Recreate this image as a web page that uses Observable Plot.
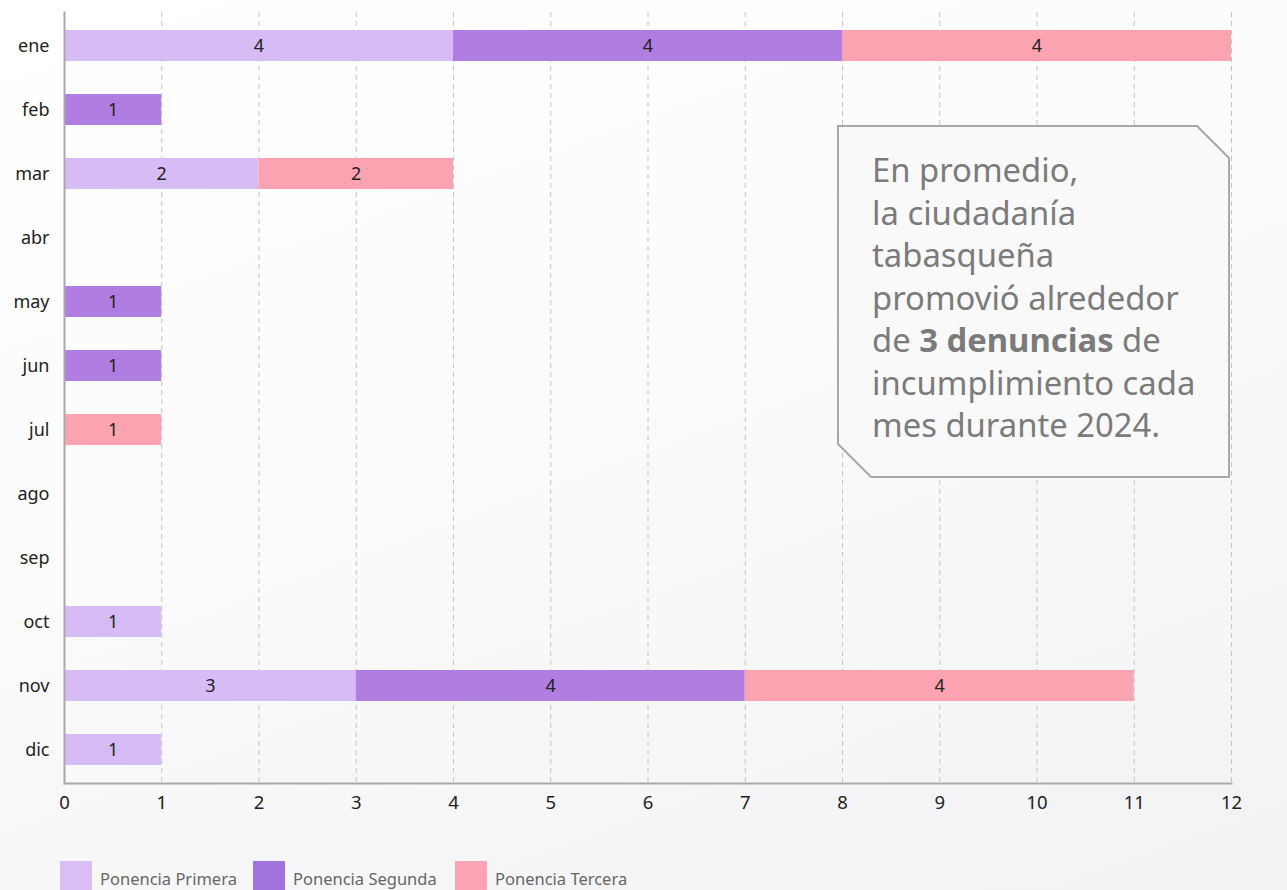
<!DOCTYPE html>
<html>
<head>
<meta charset="utf-8">
<script src="https://cdn.jsdelivr.net/npm/d3@7"></script>
<script src="https://cdn.jsdelivr.net/npm/@observablehq/plot@0.6"></script>
<style>
  html, body { margin: 0; padding: 0; }
  body { width: 1287px; height: 890px; overflow: hidden; font-family: "Noto Sans", sans-serif;
    background: linear-gradient(160deg, #ffffff 0%, #fbfbfc 45%, #f2f2f4 100%); }
  #wrap { position: relative; width: 1287px; height: 890px; }
  #chart { position: absolute; left: 0; top: 0; }
  #note { position: absolute; left: 0; top: 0; width: 1287px; height: 890px; pointer-events: none; }
  #legend { position: absolute; left: 60px; top: 861px; display: flex; font-size: 16.5px; color: #666; }
  .item { display: flex; align-items: flex-start; margin-right: 0; }
  .sw { width: 32px; height: 30px; margin-right: 8px; }
  .lab { line-height: 36px; }
</style>
</head>
<body>
<div id="wrap">
  <div id="chart"></div>
  <svg id="note" width="1287" height="890"></svg>
  <div id="legend"></div>
</div>
<script>
const months = ["ene","feb","mar","abr","may","jun","jul","ago","sep","oct","nov","dic"];
const ponencias = ["Ponencia Primera","Ponencia Segunda","Ponencia Tercera"];
const primera = [4,0,2,0,0,0,0,0,0,1,3,1];
const segunda = [4,1,0,0,1,1,0,0,0,0,4,0];
const tercera = [4,0,2,0,0,0,1,0,0,0,4,0];
const colors = ["#d7bbf4","#b07de0","#fca3b2"];
const swatchColors = ["#d9bef4","#a173de","#fca4b3"];
const xTicks = [0,1,2,3,4,5,6,7,8,9,10,11,12];
const noteLines = ["En promedio,","la ciudadanía","tabasqueña","promovió alrededor","de |3 denuncias| de","incumplimiento cada","mes durante 2024."];

const series = [primera, segunda, tercera];
const data = [];
months.forEach((m, i) => {
  series.forEach((s, j) => {
    if (s[i] > 0) data.push({mes: m, ponencia: ponencias[j], valor: s[i]});
  });
});

const chart = Plot.plot({
  width: 1287,
  height: 830,
  marginLeft: 64,
  marginRight: 56,
  marginTop: 12,
  marginBottom: 47,
  style: {background: "transparent", fontFamily: "'Noto Sans', sans-serif", color: "#222"},
  x: {domain: [0, 12], ticks: xTicks, label: null},
  y: {domain: months, paddingInner: 0.52, paddingOuter: 0.275, label: null},
  color: {domain: ponencias, range: colors},
  marks: [
    Plot.gridX(xTicks.slice(1), {stroke: "#c4c4c8", strokeOpacity: 1, strokeWidth: 1, strokeDasharray: "5,4"}),
    Plot.barX(data, {x: "valor", y: "mes", fill: "ponencia", order: ponencias, inset: 0}),
    Plot.textX(data, Plot.stackX({x: "valor", y: "mes", z: "ponencia", order: ponencias, text: "valor", fill: "#222", fontSize: 18})),
    Plot.frame({anchor: "left", stroke: "#a9a9ad", strokeWidth: 2}),
    Plot.frame({anchor: "bottom", stroke: "#a9a9ad", strokeWidth: 2}),
    Plot.axisX({ticks: xTicks, tickSize: 0, tickPadding: 12, fontSize: 18.5, label: null, fill: "#222"}),
    Plot.axisY({tickSize: 0, tickPadding: 15, fontSize: 18, label: null, fill: "#222"})
  ]
});
document.getElementById("chart").appendChild(chart);

// annotation box
const note = d3.select("#note");
note.append("polygon")
  .attr("points", "838,126 1197,126 1229,158 1229,477 871,477 838,444")
  .attr("fill", "#f9f9fa").attr("fill-opacity", 0.97)
  .attr("stroke", "#a8a8ab").attr("stroke-width", 2);
const t = note.append("text").attr("x", 872).attr("fill", "#7b7b7b")
  .style("font-family", "'Noto Sans', sans-serif").style("font-size", "32.8px");
noteLines.forEach((line, i) => {
  const parts = line.split("|");
  const ts = t.append("tspan").attr("x", 872).attr("y", 182 + i * 42.5);
  ts.text(parts[0]);
  if (parts.length > 1) {
    t.append("tspan").attr("font-weight", "bold").text(parts[1]);
    t.append("tspan").text(parts[2]);
  }
});

// legend
const legend = d3.select("#legend");
const gaps = [193, 202, 200];
ponencias.forEach((p, i) => {
  const it = legend.append("div").attr("class", "item").style("width", gaps[i] + "px");
  it.append("div").attr("class", "sw").style("background", swatchColors[i]);
  it.append("div").attr("class", "lab").text(p);
});
</script>
</body>
</html>
